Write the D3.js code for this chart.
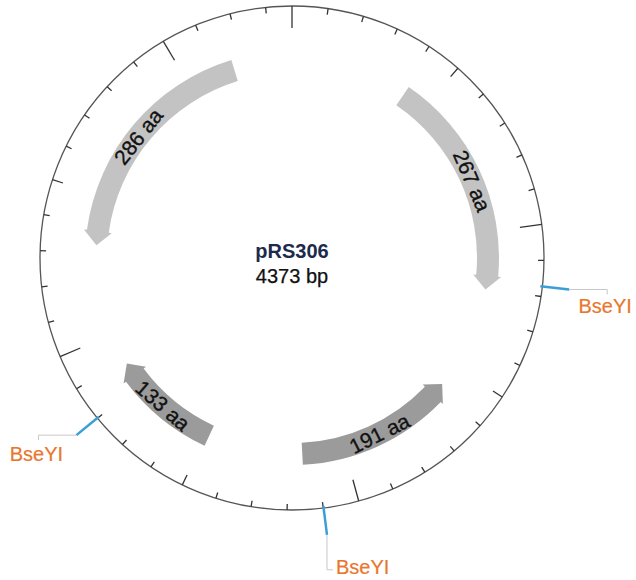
<!DOCTYPE html>
<html>
<head>
<meta charset="utf-8">
<script src="https://cdn.jsdelivr.net/npm/d3@7"></script>
<style>
  html, body { margin: 0; padding: 0; background: #ffffff; }
  svg { display: block; }
  text { font-family: "Liberation Sans", Arial, Helvetica, sans-serif; }
</style>
</head>
<body>
<svg id="chart" width="636" height="580"></svg>
<script>
// ---------------- data ----------------
const plasmidName = "pRS306";
const plasmidLength = 4373;

const featureLabels = ["267 aa", "191 aa", "133 aa", "286 aa"];
const featureStart  = [417, 2150, 2490, 4166];   // blunt end (bp)
const featureEnd    = [1206, 1579, 2884, 3325];  // arrow tip (bp)
const featureKind   = ["gene", "orf", "orf", "gene"];

const siteNames     = ["BseYI", "BseYI", "BseYI"];
const sitePositions = [1172, 2099, 2801];

// ---------------- layout ----------------
const W = 636, H = 580;
const cx = 292, cy = 258, R = 252;
const rOut = 207, rIn = 185, rMid = (rOut + rIn) / 2;
const headLen = 14, flare = 3;

const svg = d3.select("#chart");
svg.append("rect").attr("width", W).attr("height", H).attr("fill", "#fff");

const angle = d3.scaleLinear().domain([0, plasmidLength]).range([0, 2 * Math.PI]);
const kindColor = d3.scaleOrdinal().domain(["gene", "orf"]).range(["#c3c3c3", "#9b9b9b"]);
const P = (r, a) => [cx + r * Math.sin(a), cy - r * Math.cos(a)];

// backbone circle
svg.append("circle").attr("cx", cx).attr("cy", cy).attr("r", R)
  .attr("fill", "none").attr("stroke", "#555").attr("stroke-width", 1.3);

// ticks
const ticks = d3.range(0, plasmidLength, 100);
svg.append("g").selectAll("line").data(ticks).join("line")
  .each(function(bp) {
    const a = angle(bp);
    const len = bp % 1000 === 0 ? 22 : (bp % 500 === 0 ? 11 : 6);
    const p0 = P(R, a), p1 = P(R - len, a);
    d3.select(this).attr("x1", p0[0]).attr("y1", p0[1]).attr("x2", p1[0]).attr("y2", p1[1]);
  })
  .attr("stroke", "#333").attr("stroke-width", 1.3);

// features
function arrowPath(a0, a1) {
  const dir = a1 > a0 ? 1 : -1;
  const h = headLen / rMid;
  const aB = a1 - dir * h;
  const p = d3.path();
  p.moveTo(...P(rOut, a0));
  p.arc(cx, cy, rOut, a0 - Math.PI / 2, aB - Math.PI / 2, dir < 0);
  p.lineTo(...P(rOut + flare, aB));
  p.lineTo(...P(rMid, a1));
  p.lineTo(...P(rIn - flare, aB));
  p.lineTo(...P(rIn, aB));
  p.arc(cx, cy, rIn, aB - Math.PI / 2, a0 - Math.PI / 2, dir > 0);
  p.closePath();
  return p.toString();
}

const features = featureLabels.map((label, i) => ({
  label, start: featureStart[i], end: featureEnd[i], kind: featureKind[i]
}));

const fg = svg.append("g");
fg.selectAll("path").data(features).join("path")
  .attr("d", d => arrowPath(angle(d.start), angle(d.end)))
  .attr("fill", d => kindColor(d.kind));

fg.selectAll("text").data(features).join("text")
  .each(function(d) {
    const am = (angle(d.start) + angle(d.end)) / 2;
    const [x, y] = P(rMid, am);
    let deg = am * 180 / Math.PI;
    if (am > Math.PI / 2 && am < 3 * Math.PI / 2) deg -= 180;
    d3.select(this).attr("transform", `translate(${x},${y}) rotate(${deg})`);
  })
  .attr("text-anchor", "middle")
  .attr("dominant-baseline", "central")
  .attr("font-size", 21)
  .attr("fill", "#111")
  .attr("stroke", "#111").attr("stroke-width", 0.35)
  .text(d => d.label);

// restriction sites
const sites = siteNames.map((name, i) => ({ name, bp: sitePositions[i] }));
const sg = svg.append("g");
sites.forEach(s => {
  const a = angle(s.bp);
  const p0 = P(R - 2, a), e = P(R + 27, a);
  sg.append("line").attr("x1", p0[0]).attr("y1", p0[1]).attr("x2", e[0]).attr("y2", e[1])
    .attr("stroke", "#3a9fd6").attr("stroke-width", 2.5);
  const deg = a * 180 / Math.PI;
  let pts, tx, ty, anchor;
  if (deg > 135 && deg < 225) {            // bottom: vertical leader
    const yEnd = e[1] + 35;
    pts = [e, [e[0], yEnd], [e[0] + 6, yEnd]];
    tx = e[0] + 9; ty = yEnd + 4; anchor = "start";
  } else if (deg < 180) {                  // right side
    const xEnd = e[0] + 38;
    pts = [e, [xEnd, e[1]], [xEnd, e[1] + 5]];
    tx = xEnd - 2; ty = e[1] + 23; anchor = "middle";
  } else {                                 // left side
    const xEnd = e[0] - 38;
    pts = [e, [xEnd, e[1]], [xEnd, e[1] + 5]];
    tx = xEnd - 2; ty = e[1] + 26; anchor = "middle";
  }
  sg.append("path").attr("d", d3.line()(pts))
    .attr("fill", "none").attr("stroke", "#c8c8c8").attr("stroke-width", 1);
  sg.append("text").attr("x", tx).attr("y", ty).attr("text-anchor", anchor)
    .attr("font-size", 20).attr("fill", "#e8772e")
    .attr("stroke", "#e8772e").attr("stroke-width", 0.2).text(s.name);
});

// center labels
svg.append("text").attr("x", cx).attr("y", 258).attr("text-anchor", "middle")
  .attr("font-size", 20).attr("font-weight", "bold").attr("fill", "#1c2a4c").text(plasmidName);
svg.append("text").attr("x", cx).attr("y", 283).attr("text-anchor", "middle")
  .attr("font-size", 20).attr("fill", "#111")
  .attr("stroke", "#111").attr("stroke-width", 0.25).text(plasmidLength + " bp");
</script>
</body>
</html>
